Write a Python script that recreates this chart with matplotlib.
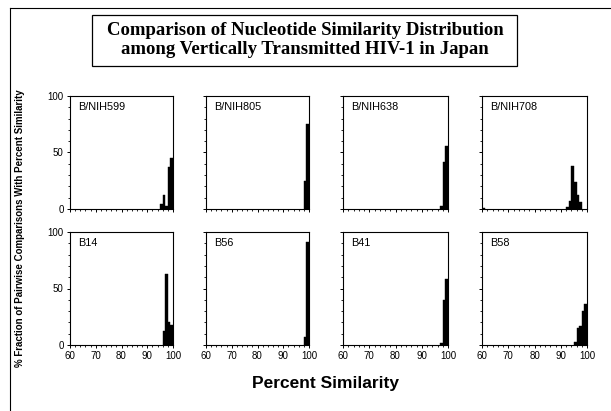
import matplotlib
matplotlib.use("Agg")
import matplotlib.pyplot as plt
from matplotlib.patches import Rectangle
from matplotlib.lines import Line2D
from matplotlib.ticker import MultipleLocator

# histogram bins (left edge, % similarity) and % fraction of comparisons
panel_names = ["B/NIH599", "B/NIH805", "B/NIH638", "B/NIH708",
               "B14", "B56", "B41", "B58"]

nih599_bins = [95, 96, 97, 98, 99]
nih599_pct = [4, 12, 3, 37, 45]

nih805_bins = [98, 99]
nih805_pct = [25, 75]

nih638_bins = [97, 98, 99]
nih638_pct = [3, 42, 56]

nih708_bins = [60, 92, 93, 94, 95, 96, 97]
nih708_pct = [1, 2, 7, 38, 24, 12, 6]

b14_bins = [96, 97, 98, 99]
b14_pct = [12, 63, 20, 18]

b56_bins = [98, 99]
b56_pct = [7, 91]

b41_bins = [97, 98, 99]
b41_pct = [2, 40, 58]

b58_bins = [95, 96, 97, 98, 99]
b58_pct = [3, 15, 17, 30, 36]

all_bins = [nih599_bins, nih805_bins, nih638_bins, nih708_bins,
            b14_bins, b56_bins, b41_bins, b58_bins]
all_pct = [nih599_pct, nih805_pct, nih638_pct, nih708_pct,
           b14_pct, b56_pct, b41_pct, b58_pct]

W, H = 611, 411
fig = plt.figure(figsize=(W / 100, H / 100), dpi=100)

def px_axes(x0, y0, x1, y1):
    return fig.add_axes([x0 / W, (H - y1) / H, (x1 - x0) / W, (y1 - y0) / H])

cols = [(70, 173), (206, 309), (343, 448), (482, 587)]
rows = [(96, 209), (232, 345)]

for i, name in enumerate(panel_names):
    r, c = divmod(i, 4)
    ax = px_axes(cols[c][0], rows[r][0], cols[c][1], rows[r][1])
    ax.bar(all_bins[i], all_pct[i], width=1, align="edge", color="black",
           edgecolor="black", linewidth=0.3)
    ax.set_xlim(60, 100)
    ax.set_ylim(0, 100)
    ax.xaxis.set_major_locator(MultipleLocator(10))
    ax.xaxis.set_minor_locator(MultipleLocator(2))
    ax.yaxis.set_major_locator(MultipleLocator(50))
    ax.yaxis.set_minor_locator(MultipleLocator(10))
    ax.tick_params(which="major", length=2.5, width=0.7, direction="out",
                   labelsize=7, pad=2, colors="black")
    ax.tick_params(which="minor", length=1.5, width=0.6, direction="out")
    if c != 0:
        ax.set_yticklabels([])
    if r != 1:
        ax.set_xticklabels([])
    for sp in ax.spines.values():
        sp.set_linewidth(0.8)
    ax.text(0.08, 0.9, name, transform=ax.transAxes, fontsize=7.8,
            family="Liberation Sans", va="center", ha="left")
    for lab in ax.get_xticklabels() + ax.get_yticklabels():
        lab.set_family("Liberation Sans")

# title box
fig.patches.append(Rectangle((92 / W, (H - 66) / H), (517 - 92) / W, (66 - 15) / H,
                             transform=fig.transFigure, fill=False,
                             edgecolor="black", linewidth=0.9))
fig.text(305 / W, (H - 40) / H,
         "Comparison of Nucleotide Similarity Distribution\namong Vertically Transmitted HIV-1 in Japan",
         ha="center", va="center", fontsize=13.5, fontweight="bold",
         family="Liberation Serif", linespacing=1.2)

# outer frame lines of the scanned page
fig.lines.append(Line2D([10 / W, 10 / W], [0, (H - 8) / H], transform=fig.transFigure,
                        color="black", linewidth=0.8))
fig.lines.append(Line2D([10 / W, 1], [(H - 8) / H, (H - 8) / H], transform=fig.transFigure,
                        color="black", linewidth=0.8))

fig.text(20 / W, (H - 228) / H,
         "% Fraction of Pairwise Comparisons With Percent Similarity",
         rotation=90, ha="center", va="center", fontsize=7, fontweight="bold",
         family="Liberation Sans")
fig.text(325 / W, (H - 383) / H, "Percent Similarity", ha="center", va="center",
         fontsize=12.5, fontweight="bold", family="Liberation Sans")

fig.savefig("out.png", dpi=100)
